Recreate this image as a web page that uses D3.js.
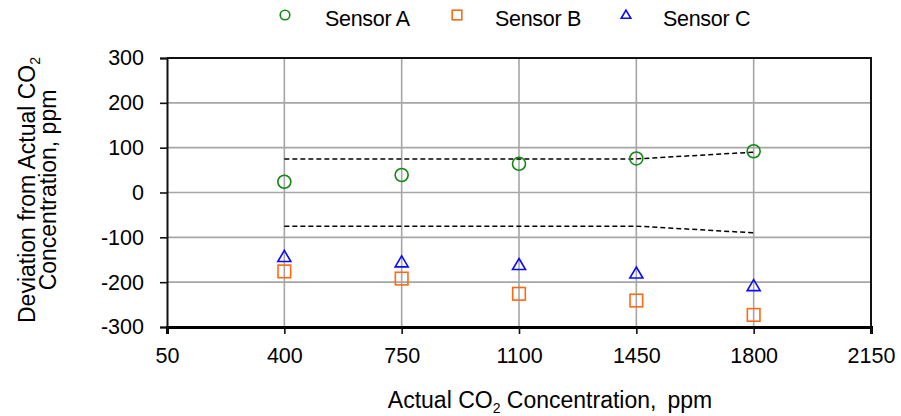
<!DOCTYPE html>
<html>
<head>
<meta charset="utf-8">
<script src="https://cdn.jsdelivr.net/npm/d3@7/dist/d3.min.js"></script>
<style>
  html, body { margin: 0; padding: 0; background: #fff; }
  svg { display: block; font-family: "Liberation Sans", Arial, sans-serif; }
</style>
</head>
<body>
<svg id="chart" width="901" height="416"></svg>
<script>
// Reference concentrations (ppm) and each sensor's deviation from them
const concentrations = [400, 750, 1100, 1450, 1800];
const sensorA = [24, 39, 64, 76, 92];
const sensorB = [-176, -192, -226, -241, -273];
const sensorC = [-144, -156, -162, -181, -209];

// Accuracy band: ±max(75 ppm, 5% of reading)
const bandUpper = [75, 75, 75, 75, 90];
const bandLower = [-75, -75, -75, -75, -90];

const xTicks = [50, 400, 750, 1100, 1450, 1800, 2150];
const yTicks = [300, 200, 100, 0, -100, -200, -300];

const seriesNames = ["Sensor A", "Sensor B", "Sensor C"];
const seriesColors = ["#108a10", "#ff6a10", "#0a0aff"];
const seriesShapes = ["circle", "square", "triangle"];

(function () {
const svg = d3.select("#chart");
const plotLeft = 167, plotRight = 871, plotTop = 58, plotBottom = 327;
const tickFont = 21.5, titleFont = 23;

const x = d3.scaleLinear().domain([50, 2150]).range([plotLeft, plotRight]);
const y = d3.scaleLinear().domain([-300, 300]).range([plotBottom, plotTop]);

// Grid
const grid = svg.append("g").attr("stroke", "#a6a6a6").attr("stroke-width", 1.6);
grid.selectAll("line.v").data(xTicks.slice(1, -1)).join("line")
  .attr("class", "v")
  .attr("x1", d => x(d)).attr("x2", d => x(d))
  .attr("y1", plotTop).attr("y2", plotBottom);
grid.selectAll("line.h").data(yTicks.slice(1, -1)).join("line")
  .attr("class", "h")
  .attr("x1", plotLeft).attr("x2", plotRight)
  .attr("y1", d => y(d)).attr("y2", d => y(d));

// Frame (top and right)
svg.append("path")
  .attr("d", `M${plotLeft},${plotTop}H${plotRight}V${plotBottom}`)
  .attr("fill", "none").attr("stroke", "#111").attr("stroke-width", 2);

// Axes (plain hyphen for negative numbers)
const fmt = d => String(d);
const yAxis = d3.axisLeft(y).tickValues(yTicks).tickSize(7).tickPadding(16).tickFormat(fmt);
const gy = svg.append("g").attr("transform", `translate(${plotLeft},0)`).call(yAxis);
gy.select(".domain").attr("stroke", "#111").attr("stroke-width", 2);
gy.selectAll(".tick line").attr("stroke", "#111").attr("stroke-width", 1.6);
gy.selectAll(".tick text").attr("font-size", tickFont).attr("fill", "#000")
  .attr("font-family", "Liberation Sans, Arial, sans-serif");

const xAxis = d3.axisBottom(x).tickValues(xTicks).tickSize(7).tickPadding(14).tickFormat(fmt);
const gx = svg.append("g").attr("transform", `translate(0,${plotBottom})`).call(xAxis);
gx.select(".domain").attr("stroke", "#000").attr("stroke-width", 3);
gx.selectAll(".tick line").attr("stroke", "#111").attr("stroke-width", 1.6);
gx.selectAll(".tick text").attr("font-size", tickFont).attr("fill", "#000")
  .attr("font-family", "Liberation Sans, Arial, sans-serif");

// Accuracy band lines
const bandLine = d3.line().x((d, i) => x(concentrations[i])).y(d => y(d));
[bandUpper, bandLower].forEach(band => {
  svg.append("path").datum(band)
    .attr("d", bandLine)
    .attr("fill", "none").attr("stroke", "#000")
    .attr("stroke-width", 1.5).attr("stroke-dasharray", "5,3");
});

// Marker drawing
function marker(g, shape, color, s) {
  if (shape === "circle") {
    g.append("circle").attr("r", s).attr("fill", "none")
      .attr("stroke", color).attr("stroke-width", 1.6);
  } else if (shape === "square") {
    g.append("rect").attr("x", -s).attr("y", -s).attr("width", 2 * s).attr("height", 2 * s)
      .attr("fill", "none").attr("stroke", color).attr("stroke-width", 1.6);
  } else {
    const h = s * 1.7;
    g.append("path")
      .attr("d", `M0,${-h * 0.6}L${s},${h * 0.4}L${-s},${h * 0.4}Z`)
      .attr("fill", "none").attr("stroke", color).attr("stroke-width", 1.6);
  }
}

const seriesValues = [sensorA, sensorB, sensorC];
seriesValues.forEach((vals, si) => {
  const g = svg.append("g");
  vals.forEach((v, i) => {
    const m = g.append("g").attr("transform", `translate(${x(concentrations[i])},${y(v)})`);
    marker(m, seriesShapes[si], seriesColors[si], si === 1 ? 6.3 : 6.5);
  });
});

// Legend
const legendX = [285, 457, 626];
const legendTextX = [325, 495, 663];
seriesNames.forEach((name, i) => {
  const m = svg.append("g").attr("transform", `translate(${legendX[i]},15)`);
  marker(m, seriesShapes[i], seriesColors[i], 4.8);
  svg.append("text").attr("x", legendTextX[i]).attr("y", 26)
    .attr("font-size", 21.5).attr("letter-spacing", -0.3).attr("fill", "#000").text(name);
});

// Axis titles
const xTitle = svg.append("text").attr("x", 550).attr("y", 408)
  .attr("text-anchor", "middle").attr("font-size", titleFont).attr("fill", "#000");
xTitle.append("tspan").text("Actual CO");
xTitle.append("tspan").attr("font-size", 14).attr("dy", 5).text("2");
xTitle.append("tspan").attr("dy", -5).text(" Concentration,");
xTitle.append("tspan").attr("dx", 11).text("ppm");

const yTitle = svg.append("g").attr("transform", "translate(0,190) rotate(-90)");
const yl1 = yTitle.append("text").attr("x", 0).attr("y", 35)
  .attr("text-anchor", "middle").attr("font-size", titleFont).attr("fill", "#000");
yl1.append("tspan").text("Deviation from Actual CO");
yl1.append("tspan").attr("font-size", 14).attr("dy", 5).text("2");
yTitle.append("text").attr("x", 0).attr("y", 56)
  .attr("text-anchor", "middle").attr("font-size", titleFont).attr("fill", "#000")
  .text("Concentration, ppm");
})();
</script>
</body>
</html>
